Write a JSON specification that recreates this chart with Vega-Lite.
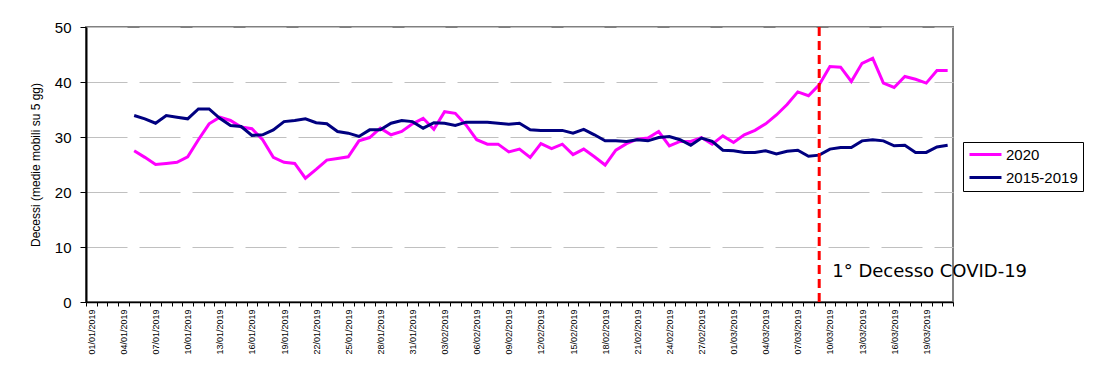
{
  "$schema": "https://vega.github.io/schema/vega-lite/v6.json",
  "width": 867,
  "height": 275,
  "autosize": "none",
  "padding": {"left": 86, "top": 27, "right": 148, "bottom": 75},
  "background": "white",
  "config": {"view": {"stroke": "#808080", "strokeWidth": 2}, "font": "Liberation Sans"},
  "data": {"values": [
    {"d": "05/01/2019", "2020": 27.5, "2015-2019": 33.9},
    {"d": "06/01/2019", "2020": 26.3, "2015-2019": 33.3},
    {"d": "07/01/2019", "2020": 25.0, "2015-2019": 32.5},
    {"d": "08/01/2019", "2020": 25.2, "2015-2019": 33.9},
    {"d": "09/01/2019", "2020": 25.4, "2015-2019": 33.6},
    {"d": "10/01/2019", "2020": 26.4, "2015-2019": 33.3},
    {"d": "11/01/2019", "2020": 29.5, "2015-2019": 35.1},
    {"d": "12/01/2019", "2020": 32.4, "2015-2019": 35.1},
    {"d": "13/01/2019", "2020": 33.6, "2015-2019": 33.4},
    {"d": "14/01/2019", "2020": 33.0, "2015-2019": 32.1},
    {"d": "15/01/2019", "2020": 31.8, "2015-2019": 31.9},
    {"d": "16/01/2019", "2020": 31.5, "2015-2019": 30.3},
    {"d": "17/01/2019", "2020": 29.5, "2015-2019": 30.4},
    {"d": "18/01/2019", "2020": 26.3, "2015-2019": 31.3},
    {"d": "19/01/2019", "2020": 25.4, "2015-2019": 32.8},
    {"d": "20/01/2019", "2020": 25.2, "2015-2019": 33.0},
    {"d": "21/01/2019", "2020": 22.5, "2015-2019": 33.3},
    {"d": "22/01/2019", "2020": 24.1, "2015-2019": 32.6},
    {"d": "23/01/2019", "2020": 25.8, "2015-2019": 32.4},
    {"d": "24/01/2019", "2020": 26.1, "2015-2019": 31.0},
    {"d": "25/01/2019", "2020": 26.4, "2015-2019": 30.7},
    {"d": "26/01/2019", "2020": 29.3, "2015-2019": 30.1},
    {"d": "27/01/2019", "2020": 29.9, "2015-2019": 31.3},
    {"d": "28/01/2019", "2020": 31.6, "2015-2019": 31.3},
    {"d": "29/01/2019", "2020": 30.4, "2015-2019": 32.5},
    {"d": "30/01/2019", "2020": 31.0, "2015-2019": 33.0},
    {"d": "31/01/2019", "2020": 32.4, "2015-2019": 32.8},
    {"d": "01/02/2019", "2020": 33.4, "2015-2019": 31.6},
    {"d": "02/02/2019", "2020": 31.4, "2015-2019": 32.6},
    {"d": "03/02/2019", "2020": 34.6, "2015-2019": 32.5},
    {"d": "04/02/2019", "2020": 34.3, "2015-2019": 32.1},
    {"d": "05/02/2019", "2020": 32.2, "2015-2019": 32.7},
    {"d": "06/02/2019", "2020": 29.5, "2015-2019": 32.7},
    {"d": "07/02/2019", "2020": 28.7, "2015-2019": 32.7},
    {"d": "08/02/2019", "2020": 28.7, "2015-2019": 32.5},
    {"d": "09/02/2019", "2020": 27.3, "2015-2019": 32.3},
    {"d": "10/02/2019", "2020": 27.8, "2015-2019": 32.5},
    {"d": "11/02/2019", "2020": 26.3, "2015-2019": 31.3},
    {"d": "12/02/2019", "2020": 28.8, "2015-2019": 31.2},
    {"d": "13/02/2019", "2020": 27.9, "2015-2019": 31.2},
    {"d": "14/02/2019", "2020": 28.7, "2015-2019": 31.2},
    {"d": "15/02/2019", "2020": 26.8, "2015-2019": 30.7},
    {"d": "16/02/2019", "2020": 27.8, "2015-2019": 31.4},
    {"d": "17/02/2019", "2020": 26.4, "2015-2019": 30.4},
    {"d": "18/02/2019", "2020": 24.9, "2015-2019": 29.3},
    {"d": "19/02/2019", "2020": 27.6, "2015-2019": 29.3},
    {"d": "20/02/2019", "2020": 28.8, "2015-2019": 29.2},
    {"d": "21/02/2019", "2020": 29.6, "2015-2019": 29.5},
    {"d": "22/02/2019", "2020": 29.8, "2015-2019": 29.3},
    {"d": "23/02/2019", "2020": 31.0, "2015-2019": 29.9},
    {"d": "24/02/2019", "2020": 28.4, "2015-2019": 30.1},
    {"d": "25/02/2019", "2020": 29.2, "2015-2019": 29.5},
    {"d": "26/02/2019", "2020": 29.2, "2015-2019": 28.5},
    {"d": "27/02/2019", "2020": 29.9, "2015-2019": 29.8},
    {"d": "28/02/2019", "2020": 28.7, "2015-2019": 29.2},
    {"d": "29/02/2019", "2020": 30.2, "2015-2019": 27.6},
    {"d": "01/03/2019", "2020": 29.0, "2015-2019": 27.5},
    {"d": "02/03/2019", "2020": 30.4, "2015-2019": 27.2},
    {"d": "03/03/2019", "2020": 31.2, "2015-2019": 27.2},
    {"d": "04/03/2019", "2020": 32.4, "2015-2019": 27.5},
    {"d": "05/03/2019", "2020": 34.0, "2015-2019": 26.9},
    {"d": "06/03/2019", "2020": 35.9, "2015-2019": 27.4},
    {"d": "07/03/2019", "2020": 38.2, "2015-2019": 27.6},
    {"d": "08/03/2019", "2020": 37.5, "2015-2019": 26.5},
    {"d": "09/03/2019", "2020": 39.5, "2015-2019": 26.7},
    {"d": "10/03/2019", "2020": 42.8, "2015-2019": 27.8},
    {"d": "11/03/2019", "2020": 42.7, "2015-2019": 28.1},
    {"d": "12/03/2019", "2020": 40.1, "2015-2019": 28.1},
    {"d": "13/03/2019", "2020": 43.4, "2015-2019": 29.3},
    {"d": "14/03/2019", "2020": 44.3, "2015-2019": 29.5},
    {"d": "15/03/2019", "2020": 39.8, "2015-2019": 29.3},
    {"d": "16/03/2019", "2020": 39.0, "2015-2019": 28.4},
    {"d": "17/03/2019", "2020": 41.0, "2015-2019": 28.5},
    {"d": "18/03/2019", "2020": 40.5, "2015-2019": 27.2},
    {"d": "19/03/2019", "2020": 39.8, "2015-2019": 27.2},
    {"d": "20/03/2019", "2020": 42.1, "2015-2019": 28.2},
    {"d": "21/03/2019", "2020": 42.1, "2015-2019": 28.5}
  ]},
  "layer": [
    {
      "transform": [{"fold": ["2020", "2015-2019"], "as": ["serie", "valore"]}],
      "mark": {"type": "line", "strokeWidth": 3},
      "encoding": {
        "x": {
          "field": "d", "type": "ordinal", "bandPosition": 0.5,
          "scale": {"type": "band", "paddingInner": 0, "paddingOuter": 0, "domain": [
            "01/01/2019","02/01/2019","03/01/2019","04/01/2019","05/01/2019","06/01/2019","07/01/2019","08/01/2019","09/01/2019","10/01/2019",
            "11/01/2019","12/01/2019","13/01/2019","14/01/2019","15/01/2019","16/01/2019","17/01/2019","18/01/2019","19/01/2019","20/01/2019",
            "21/01/2019","22/01/2019","23/01/2019","24/01/2019","25/01/2019","26/01/2019","27/01/2019","28/01/2019","29/01/2019","30/01/2019","31/01/2019",
            "01/02/2019","02/02/2019","03/02/2019","04/02/2019","05/02/2019","06/02/2019","07/02/2019","08/02/2019","09/02/2019","10/02/2019",
            "11/02/2019","12/02/2019","13/02/2019","14/02/2019","15/02/2019","16/02/2019","17/02/2019","18/02/2019","19/02/2019","20/02/2019",
            "21/02/2019","22/02/2019","23/02/2019","24/02/2019","25/02/2019","26/02/2019","27/02/2019","28/02/2019","29/02/2019",
            "01/03/2019","02/03/2019","03/03/2019","04/03/2019","05/03/2019","06/03/2019","07/03/2019","08/03/2019","09/03/2019","10/03/2019",
            "11/03/2019","12/03/2019","13/03/2019","14/03/2019","15/03/2019","16/03/2019","17/03/2019","18/03/2019","19/03/2019","20/03/2019","21/03/2019"
          ]},
          "axis": {
            "title": null, "labelAngle": -90, "labelFontSize": 9, "labelColor": "black",
            "labelOverlap": false, "labelPadding": 3,
            "labelExpr": "indexof(['01/01/2019','04/01/2019','07/01/2019','10/01/2019','13/01/2019','16/01/2019','19/01/2019','22/01/2019','25/01/2019','28/01/2019','31/01/2019','03/02/2019','06/02/2019','09/02/2019','12/02/2019','15/02/2019','18/02/2019','21/02/2019','24/02/2019','27/02/2019','01/03/2019','04/03/2019','07/03/2019','10/03/2019','13/03/2019','16/03/2019','19/03/2019'], datum.value) >= 0 ? datum.value : ''",
            "tickBand": "extent", "tickSize": 4, "tickColor": "black",
            "domainColor": "black", "domainWidth": 1.5, "grid": false
          }
        },
        "y": {
          "field": "valore", "type": "quantitative",
          "scale": {"domain": [0, 50], "nice": false},
          "axis": {
            "values": [0, 10, 20, 30, 40, 50],
            "title": "Decessi (medie mobili su 5 gg)", "titleFontSize": 12, "titleFontWeight": "normal",
            "titleColor": "black", "titlePadding": 12,
            "labelFontSize": 15, "labelColor": "black", "labelPadding": 9,
            "tickColor": "black", "tickSize": 6, "domainColor": "black", "domainWidth": 2,
            "gridColor": "#C0C0C0", "gridDash": [41, 12], "gridWidth": 1
          }
        },
        "color": {
          "field": "serie", "type": "nominal",
          "scale": {"domain": ["2020", "2015-2019"], "range": ["#FF00FF", "#000080"]},
          "legend": {
            "orient": "none", "legendX": 877, "legendY": 115, "title": null,
            "strokeColor": "black", "fillColor": "white", "padding": 5,
            "symbolType": "M-1,0H4.33", "symbolSize": 144, "symbolStrokeWidth": 3,
            "labelFontSize": 15, "labelColor": "black", "labelOffset": 23, "rowPadding": 7
          }
        }
      }
    },
    {
      "data": {"values": [{}]},
      "mark": {"type": "rule", "color": "#FF0000", "strokeWidth": 3, "strokeDash": [9, 5]},
      "encoding": {"x": {"datum": "09/03/2019", "type": "ordinal", "bandPosition": 0.5}}
    },
    {
      "data": {"values": [{}]},
      "mark": {"type": "text", "text": "1° Decesso COVID-19", "font": "DejaVu Sans", "fontSize": 18, "align": "left", "baseline": "middle", "dx": 13, "color": "black"},
      "encoding": {
        "x": {"datum": "09/03/2019", "type": "ordinal", "bandPosition": 0.5},
        "y": {"datum": 5.5, "type": "quantitative"}
      }
    }
  ]
}
